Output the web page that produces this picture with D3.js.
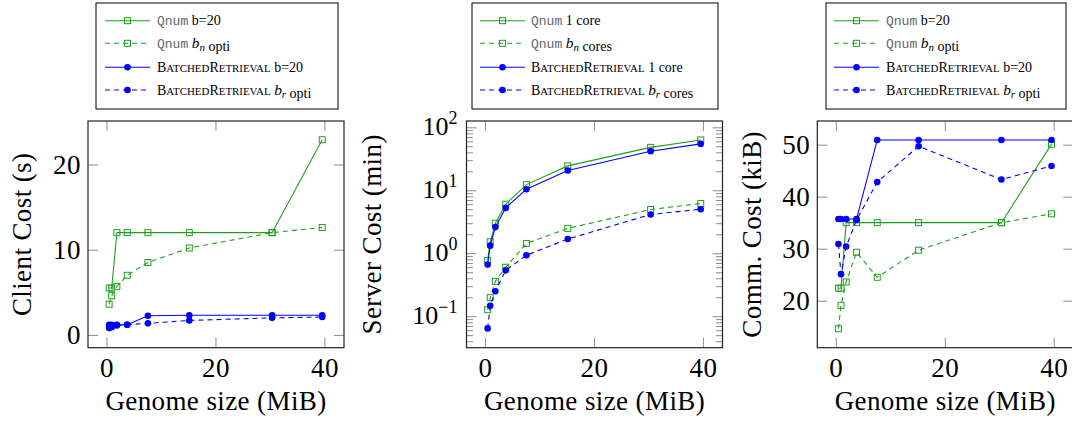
<!DOCTYPE html>
<html>
<head>
<meta charset="utf-8">
<script src="https://cdn.jsdelivr.net/npm/d3@7"></script>
</head>
<body style="margin:0">
<div id="c"></div>
<script>
// genome sizes (MiB), shared by all three panels
const genomeSize = [0.48, 0.95, 1.9, 3.8, 7.6, 15.2, 30.4, 39.6]

// client cost (s)
const clientQnumB20 = [5.5, 5.5, 12.0, 12.0, 12.0, 12.0, 12.0, 22.9]
const clientQnumOpt = [3.6, 4.6, 5.7, 7.0, 8.5, 10.2, 12.0, 12.6]
const clientBrB20 = [1.2, 1.2, 1.2, 1.2, 2.25, 2.3, 2.3, 2.3]
const clientBrOpt = [0.8, 0.9, 1.1, 1.2, 1.36, 1.7, 2.0, 2.1]

// server cost (min), log axis
const serverQnum1 = [0.77, 1.52, 3.0, 6.0, 12.3, 24.4, 48, 63]
const serverQnumN = [0.127, 0.197, 0.358, 0.6, 1.43, 2.48, 4.95, 6.17]
const serverBr1 = [0.66, 1.32, 2.6, 5.25, 10.4, 20.6, 41.6, 54.5]
const serverBrR = [0.064, 0.147, 0.249, 0.535, 0.93, 1.68, 4.13, 5.0]

// communication cost (kiB)
const commQnumB20 = [22.4, 22.4, 35.0, 35.0, 35.0, 35.0, 35.0, 50.1]
const commQnumOpt = [14.6, 19.1, 23.6, 29.3, 24.5, 29.7, 35.0, 36.7]
const commBrB20 = [35.7, 35.7, 35.7, 35.7, 50.9, 50.9, 50.9, 50.9]
const commBrOpt = [30.9, 25.1, 30.4, 35.5, 42.8, 49.7, 43.3, 45.9]

// tick values
const xTicks = [0, 20, 40]
const clientTicks = [0, 10, 20]
const serverTicks = [0.1, 1, 10, 100]
const commTicks = [20, 30, 40, 50]

// legend labels: `..` = typewriter, ^..^ = small caps, $b_n$ = math
const legendOpti = ["`Qnum` b=20", "`Qnum` $b_n$ opti", "^BatchedRetrieval^ b=20", "^BatchedRetrieval^ $b_r$ opti"]
const legendCores = ["`Qnum` 1 core", "`Qnum` $b_n$ cores", "^BatchedRetrieval^ 1 core", "^BatchedRetrieval^ $b_r$ cores"]

const yLabels = ["Client Cost (s)", "Server Cost (min)", "Comm. Cost (kiB)"]
const xLabel = "Genome size (MiB)"

const SERIF = "Liberation Serif"
const MONO = "Liberation Mono"
const GREEN = "#1f9f1f"
const BLUE = "#0000ff"
const TICK = "#8c8c8c"
const TOP = 121, BOTTOM = 347.7, PW = 256

const svg = d3.select("#c").append("svg")
    .attr("width", 1072).attr("height", 421)
    .attr("font-family", SERIF)

function seriesOf(q1, q2, b1, b2) {
    return [
        { vals: q1, color: GREEN, dash: null, mark: "square" },
        { vals: q2, color: GREEN, dash: "5,4", mark: "square" },
        { vals: b1, color: BLUE, dash: null, mark: "dot" },
        { vals: b2, color: BLUE, dash: "5,4", mark: "dot" }
    ]
}

const panels = [
    { left: 88, yDomain: [-1.5, 25.1], log: false, yTicks: clientTicks, ylabel: yLabels[0], ylabelX: 22,
      series: seriesOf(clientQnumB20, clientQnumOpt, clientBrB20, clientBrOpt),
      legend: { x: 96, w: 242, sample: 9, text: 61, labels: legendOpti } },
    { left: 466.5, yDomain: [Math.pow(10, -1.5), Math.pow(10, 2.1)], log: true, yTicks: serverTicks, ylabel: yLabels[1], ylabelX: 372,
      series: seriesOf(serverQnum1, serverQnumN, serverBr1, serverBrR),
      legend: { x: 472, w: 246, sample: 8, text: 59, labels: legendCores } },
    { left: 817.3, yDomain: [10.96, 54.55], log: false, yTicks: commTicks, ylabel: yLabels[2], ylabelX: 752,
      series: seriesOf(commQnumB20, commQnumOpt, commBrB20, commBrOpt),
      legend: { x: 826, w: 240, sample: 8, text: 60, labels: legendOpti } }
]

function drawMark(g, type, cx, cy, color) {
    if (type === "square") {
        g.append("rect").attr("x", cx - 3).attr("y", cy - 3).attr("width", 6).attr("height", 6)
            .attr("fill", "none").attr("stroke", color).attr("stroke-width", 1)
    } else {
        g.append("circle").attr("cx", cx).attr("cy", cy).attr("r", 3.3).attr("fill", color)
    }
}

// writes a label with the little markup into a text element
function richText(text, label, size) {
    const re = /`([^`]+)`|\^([^^]+)\^|\$(\w)_(\w)\$|([^`^$]+)/g
    let m
    while ((m = re.exec(label)) !== null) {
        if (m[1]) {
            text.append("tspan").attr("font-family", MONO)
                .attr("font-size", size * 0.93).attr("fill", "#666").text(m[1])
        } else if (m[2]) {
            // fake small caps
            const runs = m[2].match(/[A-Z]|[a-z]+/g)
            runs.forEach(r => {
                const big = r === r.toUpperCase()
                text.append("tspan").attr("font-size", big ? size : size * 0.78).text(r.toUpperCase())
            })
        } else if (m[3]) {
            text.append("tspan").attr("font-style", "italic").attr("font-size", size * 1.1).text(m[3])
            text.append("tspan").attr("font-style", "italic").attr("font-size", size * 0.78)
                .attr("dy", 3.5).text(m[4])
            text.append("tspan").attr("dy", -3.5).text("")
        } else {
            text.append("tspan").attr("font-size", size).attr("xml:space", "preserve").text(m[5])
        }
    }
}

panels.forEach(p => {
    const g = svg.append("g")
    const x = d3.scaleLinear().domain([-3.4, 43.6]).range([p.left, p.left + PW])
    const y = (p.log ? d3.scaleLog() : d3.scaleLinear()).domain(p.yDomain).range([BOTTOM, TOP])

    // ticks (inside, on all four sides)
    const axes = [
        { a: d3.axisBottom(x).tickValues(xTicks).tickSize(-10).tickPadding(10), t: `translate(0,${BOTTOM})` },
        { a: d3.axisTop(x).tickValues(xTicks).tickSize(-10).tickFormat(""), t: `translate(0,${TOP})` },
        { a: d3.axisLeft(y).tickValues(p.yTicks).tickSize(-10).tickPadding(7), t: `translate(${p.left},0)` },
        { a: d3.axisRight(y).tickValues(p.yTicks).tickSize(-10).tickFormat(""), t: `translate(${p.left + PW},0)` }
    ]
    if (p.log) {
        const minor = []
        for (let e = -2; e <= 2; e++) for (let k = 2; k <= 9; k++) {
            const v = k * Math.pow(10, e)
            if (v > p.yDomain[0] && v < p.yDomain[1]) minor.push(v)
        }
        axes.push({ a: d3.axisLeft(y).tickValues(minor).tickSize(-6.5).tickFormat(""), t: `translate(${p.left},0)` })
        axes.push({ a: d3.axisRight(y).tickValues(minor).tickSize(-6.5).tickFormat(""), t: `translate(${p.left + PW},0)` })
        axes[2].a.tickFormat(() => "")
    }
    axes.forEach(ax => {
        const ag = g.append("g").attr("transform", ax.t).call(ax.a.tickSizeOuter(0))
        ag.select(".domain").remove()
        ag.attr("font-family", SERIF).attr("font-size", 27).attr("color", TICK)
        ag.selectAll("line").attr("stroke", TICK).attr("stroke-width", 1)
        ag.selectAll("text").attr("fill", "#000").attr("letter-spacing", 0.5)
    })

    if (p.log) {
        g.append("g").selectAll("text").data(p.yTicks).join("text")
            .attr("x", p.left - 9).attr("y", d => y(d) + 8)
            .attr("text-anchor", "end").attr("font-size", 26)
            .each(function (d) {
                const t = d3.select(this)
                t.append("tspan").text("10")
                t.append("tspan").attr("font-size", 18).attr("dy", -11)
                    .text(String(Math.round(Math.log10(d))).replace("-", "\u2212"))
            })
    }

    // frame
    g.append("rect").attr("x", p.left).attr("y", TOP).attr("width", PW).attr("height", BOTTOM - TOP)
        .attr("fill", "none").attr("stroke", "#222").attr("stroke-width", 1.2)

    // series
    const line = d3.line().x(d => x(d[0])).y(d => y(d[1]))
    p.series.forEach(s => {
        const pts = genomeSize.map((gs, i) => [gs, s.vals[i]])
        g.append("path").datum(pts).attr("d", line)
            .attr("fill", "none").attr("stroke", s.color).attr("stroke-width", 1.1)
            .attr("stroke-dasharray", s.dash)
        pts.forEach(d => drawMark(g, s.mark, x(d[0]), y(d[1]), s.color))
    })

    // axis labels
    g.append("text").attr("letter-spacing", 0.4)
        .attr("x", p.left + PW / 2).attr("y", 410).attr("text-anchor", "middle")
        .attr("font-size", 27).text(xLabel)
    g.append("text").attr("letter-spacing", 0.4)
        .attr("transform", `translate(${p.ylabelX},${(TOP + BOTTOM) / 2}) rotate(-90)`)
        .attr("text-anchor", "middle").attr("dy", "0.35em").attr("font-size", 27).text(p.ylabel)

    // legend
    const L = p.legend
    const lg = svg.append("g")
    lg.append("rect").attr("x", L.x).attr("y", 3).attr("width", L.w).attr("height", 106)
        .attr("fill", "#fff").attr("stroke", "#000").attr("stroke-width", 1)
    const rows = [20.7, 43.3, 67.3, 90]
    p.series.forEach((s, i) => {
        const ry = rows[i]
        lg.append("line").attr("x1", L.x + L.sample).attr("x2", L.x + L.sample + 45)
            .attr("y1", ry).attr("y2", ry).attr("stroke", s.color).attr("stroke-width", 1.1)
            .attr("stroke-dasharray", s.dash)
        drawMark(lg, s.mark, L.x + L.sample + 22.5, ry, s.color)
        const t = lg.append("text").attr("x", L.x + L.text).attr("y", ry + 4.5)
        richText(t, L.labels[i], 14)
    })
})
</script>
</body>
</html>
